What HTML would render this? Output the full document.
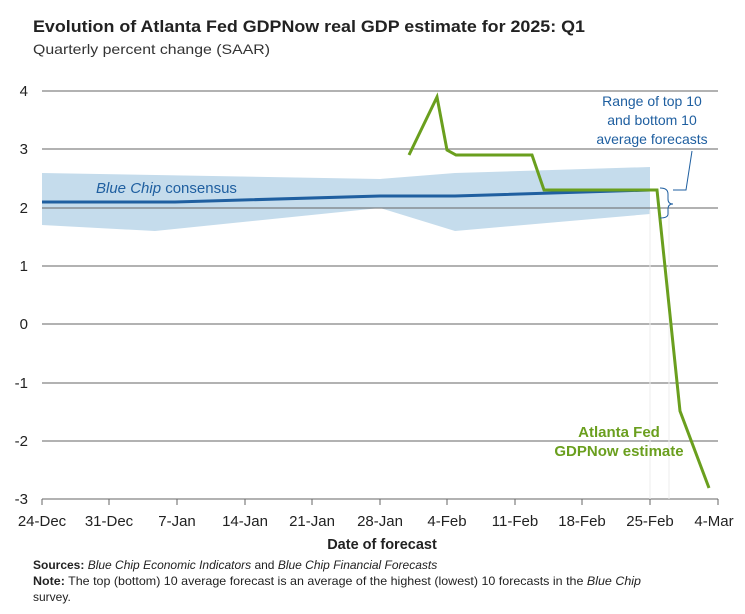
<!DOCTYPE html>
<html><head><meta charset="utf-8"><style>
body{margin:0;background:#fff;font-family:"Liberation Sans",sans-serif;}
</style></head><body>
<svg width="745" height="609" xmlns="http://www.w3.org/2000/svg" font-family="Liberation Sans, sans-serif">
<text x="33" y="32" font-size="17" font-weight="bold" fill="#222" textLength="552" lengthAdjust="spacingAndGlyphs">Evolution of Atlanta Fed GDPNow real GDP estimate for 2025: Q1</text>
<text x="33" y="54" font-size="14" fill="#333" textLength="237" lengthAdjust="spacingAndGlyphs">Quarterly percent change (SAAR)</text>
<polygon fill="#c5dcec" points="42,173 380,179 455,173 650,167 650,214 455,231 380,208 155,231 42,225"/>
<g stroke="#666" stroke-width="1">
<line x1="42" y1="91" x2="718" y2="91"/><line x1="42" y1="149" x2="718" y2="149"/>
<line x1="42" y1="208" x2="718" y2="208"/><line x1="42" y1="266" x2="718" y2="266"/>
<line x1="42" y1="324" x2="718" y2="324"/><line x1="42" y1="383" x2="718" y2="383"/>
<line x1="42" y1="441" x2="718" y2="441"/><line x1="42" y1="499" x2="718" y2="499"/>
</g>
<line x1="650" y1="210" x2="650" y2="499" stroke="#eee"/><line x1="669" y1="210" x2="669" y2="499" stroke="#eee"/>
<g stroke="#666"><line x1="42" y1="499" x2="42" y2="505"/><line x1="109" y1="499" x2="109" y2="505"/><line x1="177" y1="499" x2="177" y2="505"/><line x1="245" y1="499" x2="245" y2="505"/><line x1="312" y1="499" x2="312" y2="505"/><line x1="380" y1="499" x2="380" y2="505"/><line x1="447" y1="499" x2="447" y2="505"/><line x1="515" y1="499" x2="515" y2="505"/><line x1="582" y1="499" x2="582" y2="505"/><line x1="650" y1="499" x2="650" y2="505"/><line x1="718" y1="499" x2="718" y2="505"/></g>
<g font-size="15" fill="#222" text-anchor="end"><text x="28" y="96">4</text><text x="28" y="154">3</text><text x="28" y="213">2</text><text x="28" y="271">1</text><text x="28" y="329">0</text><text x="28" y="388">-1</text><text x="28" y="446">-2</text><text x="28" y="504">-3</text></g>
<g font-size="15" fill="#222" text-anchor="middle"><text x="42" y="526">24-Dec</text><text x="109" y="526">31-Dec</text><text x="177" y="526">7-Jan</text><text x="245" y="526">14-Jan</text><text x="312" y="526">21-Jan</text><text x="380" y="526">28-Jan</text><text x="447" y="526">4-Feb</text><text x="515" y="526">11-Feb</text><text x="582" y="526">18-Feb</text><text x="650" y="526">25-Feb</text><text x="714" y="526">4-Mar</text></g>
<text x="382" y="549" font-size="14.5" font-weight="bold" fill="#222" text-anchor="middle">Date of forecast</text>
<polyline fill="none" stroke="#1f5fa0" stroke-width="3" points="42,202 175,202 380,196 455,196 650,190"/>
<polyline fill="none" stroke="#6a9f1e" stroke-width="3" points="409,155 437,97 447,150 456,155 532,155 544,190 657,190 680,411 709,488"/>
<text x="96" y="193" font-size="15" fill="#1f5fa0"><tspan font-style="italic">Blue Chip</tspan> consensus</text>
<g font-size="14" fill="#1f5fa0" text-anchor="middle"><text x="652" y="106">Range of top 10</text><text x="652" y="125">and bottom 10</text><text x="652" y="144">average forecasts</text></g>
<path d="M660,188 Q668,188 668,194 L668,199 Q668,204 673,204 Q668,204 668,209 L668,214 Q668,218 660,218" fill="none" stroke="#1f5fa0" stroke-width="1"/>
<path d="M673,190 L686,190 L692,151" fill="none" stroke="#1f5fa0" stroke-width="1"/>
<g font-size="15" font-weight="bold" fill="#6a9f1e" text-anchor="middle"><text x="619" y="437">Atlanta Fed</text><text x="619" y="456">GDPNow estimate</text></g>
<text x="33" y="569" font-size="12" fill="#222"><tspan font-weight="bold">Sources:</tspan> <tspan font-style="italic">Blue Chip Economic Indicators</tspan> and <tspan font-style="italic">Blue Chip Financial Forecasts</tspan></text>
<text x="33" y="585" font-size="12" fill="#222" textLength="608" lengthAdjust="spacingAndGlyphs"><tspan font-weight="bold">Note:</tspan> The top (bottom) 10 average forecast is an average of the highest (lowest) 10 forecasts in the <tspan font-style="italic">Blue Chip</tspan></text>
<text x="33" y="601" font-size="12" fill="#222">survey.</text>
</svg>
</body></html>
